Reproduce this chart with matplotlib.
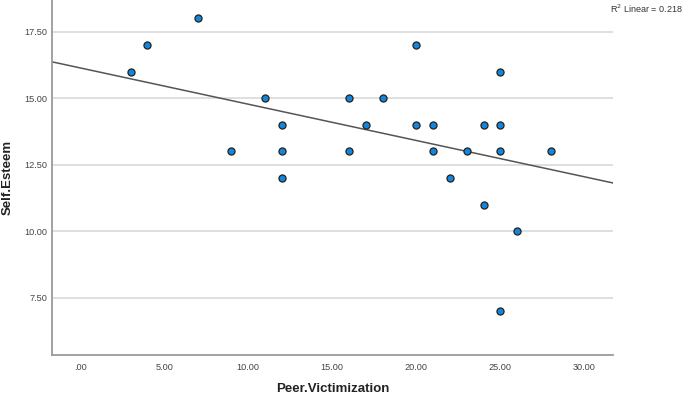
import numpy as np
import matplotlib
matplotlib.use("Agg")
import matplotlib.pyplot as plt

plt.rcParams['font.family'] = ['Liberation Sans', 'DejaVu Sans']

# Observations (a few cases overlap exactly: (9,13), (25,14), (28,13) appear twice)
peer_victimization = [3, 4, 7, 9, 9, 11, 12, 12, 12, 16, 16, 17, 18, 20, 20, 21, 21,
                      22, 23, 24, 24, 25, 25, 25, 25, 25, 26, 28, 28]
self_esteem = [16, 17, 18, 13, 13, 15, 14, 13, 12, 15, 13, 14, 15, 17, 14, 14, 13,
               12, 13, 14, 11, 16, 14, 14, 13, 7, 10, 13, 13]
x_ticks = [0, 5, 10, 15, 20, 25, 30]
x_tick_labels = ['.00', '5.00', '10.00', '15.00', '20.00', '25.00', '30.00']
y_ticks = [7.5, 10, 12.5, 15, 17.5]
y_tick_labels = ['7.50', '10.00', '12.50', '15.00', '17.50']
r2_label = 'R$^2$ Linear = 0.218'

fig = plt.figure(figsize=(6.85, 3.96), dpi=100)
ax = fig.add_axes([0.0759, 0.1035, 0.8191, 0.8965])

xlim = (-1.67, 31.7)
ylim = (5.35, 18.69)
ax.set_xlim(*xlim)
ax.set_ylim(*ylim)

x = np.array(peer_victimization, dtype=float)
y = np.array(self_esteem, dtype=float)
slope, intercept = np.polyfit(x, y, 1)
xs = np.array(xlim)
ax.plot(xs, intercept + slope * xs, color='#555555', lw=1.1, zorder=2)

# overlapping cases are drawn once (as they appear in the chart)
pts = np.unique(np.column_stack([x, y]), axis=0)
ax.scatter(pts[:, 0], pts[:, 1], s=26, facecolor='#1485dc', edgecolor='#222222',
           linewidths=0.9, zorder=3)

ax.set_yticks(y_ticks)
ax.set_yticklabels(y_tick_labels)
ax.set_xticks(x_ticks)
ax.set_xticklabels(x_tick_labels)
ax.tick_params(axis='both', length=0, labelsize=6.6, labelcolor='#444444')
ax.tick_params(axis='x', pad=5.5)
ax.tick_params(axis='y', pad=3.3)
ax.yaxis.grid(True, color='#d6d6d6', lw=1.1)
ax.set_axisbelow(True)

for s in ['top', 'right']:
    ax.spines[s].set_visible(False)
for s in ['left', 'bottom']:
    ax.spines[s].set_color('#9a9a9a')
    ax.spines[s].set_linewidth(1.3)

ax.set_xlabel('Peer.Victimization', fontsize=9.5, fontweight='bold', color='#222222')
ax.set_ylabel('Self.Esteem', fontsize=9.5, fontweight='bold', color='#222222')
ax.xaxis.set_label_coords(0.5, -0.096)
ax.xaxis.label.set_va('center')
ax.yaxis.set_label_coords(-0.0784, 0.5)
ax.yaxis.label.set_va('center')

fig.text(0.997, 0.979, r2_label, ha='right', va='center', fontsize=6.5, color='#333333')

fig.savefig('out.png', dpi=100)
